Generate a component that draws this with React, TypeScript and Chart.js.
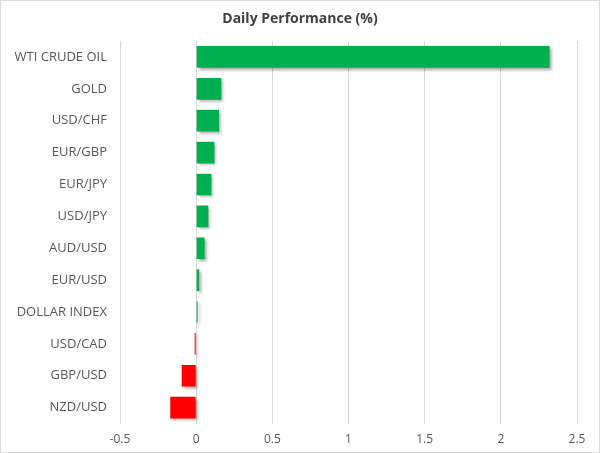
import React, { useEffect, useRef } from "react";
import { Chart, registerables } from "chart.js";

Chart.register(...registerables);

const categories = [
  "WTI CRUDE OIL",
  "GOLD",
  "USD/CHF",
  "EUR/GBP",
  "EUR/JPY",
  "USD/JPY",
  "AUD/USD",
  "EUR/USD",
  "DOLLAR INDEX",
  "USD/CAD",
  "GBP/USD",
  "NZD/USD",
];
const performance = [2.32, 0.165, 0.15, 0.12, 0.1, 0.08, 0.055, 0.02, 0.01, -0.01, -0.095, -0.17];
const xTicks = [-0.5, 0, 0.5, 1, 1.5, 2, 2.5];
const titleText = "Daily Performance (%)";

const GREEN = "#00b050";
const RED = "#ff0000";

const frame = {
  id: "frame",
  beforeDraw(chart: any) {
    const ctx = chart.ctx;
    ctx.save();
    ctx.fillStyle = "#ffffff";
    ctx.fillRect(0, 0, chart.width, chart.height);
    ctx.strokeStyle = "#d9d9d9";
    ctx.lineWidth = 1;
    ctx.strokeRect(0.5, 0.5, chart.width - 1, chart.height - 1);
    ctx.fillStyle = "#404040";
    ctx.font = "bold 14px 'Open Sans'";
    ctx.textAlign = "center";
    ctx.textBaseline = "middle";
    ctx.fillText(titleText, chart.width / 2, 19);
    ctx.restore();
  },
};

const shadow = {
  id: "barShadow",
  beforeDatasetDraw(chart: any) {
    const ctx = chart.ctx;
    ctx.save();
    ctx.shadowColor = "rgba(0,0,0,0.35)";
    ctx.shadowOffsetX = 2;
    ctx.shadowOffsetY = 2;
    ctx.shadowBlur = 3;
  },
  afterDatasetDraw(chart: any) {
    chart.ctx.restore();
  },
};

export default function App() {
  const ref = useRef<HTMLCanvasElement>(null);
  useEffect(() => {
    if (!ref.current) return;
    const chart = new Chart(ref.current, {
      type: "bar",
      data: {
        labels: categories,
        datasets: [
          {
            data: performance,
            backgroundColor: performance.map((v) => (v >= 0 ? GREEN : RED)),
            borderWidth: 0,
            categoryPercentage: 1,
            barPercentage: 0.68,
          },
        ],
      },
      options: {
        indexAxis: "y",
        animation: false,
        responsive: false,
        devicePixelRatio: 1,
        layout: { padding: { top: 41, right: 23, bottom: -3, left: 0 } },
        plugins: {
          legend: { display: false },
          tooltip: { enabled: false },
          title: { display: false },
        },
        scales: {
          x: {
            min: -0.5,
            max: 2.5,
            afterBuildTicks: (axis: any) => {
              axis.ticks = xTicks.map((v) => ({ value: v }));
            },
            grid: { color: "#d9d9d9", drawTicks: false },
            border: { display: false },
            ticks: {
              color: "#595959",
              font: { family: "Open Sans", size: 12 },
              padding: 9,
              callback: (v: any) => String(v),
            },
          },
          y: {
            grid: { display: false },
            border: { display: false },
            afterFit: (axis: any) => {
              axis.width = 120;
            },
            ticks: {
              color: "#595959",
              font: { family: "Open Sans", size: 13 },
              padding: 5,
              autoSkip: false,
            },
          },
        },
      },
      plugins: [frame, shadow],
    });
    return () => chart.destroy();
  }, []);
  return (
    <div style={{ position: "fixed", left: 0, top: 0, width: 600, height: 453 }}>
      <canvas ref={ref} width={600} height={453} style={{ width: 600, height: 453 }} />
    </div>
  );
}
